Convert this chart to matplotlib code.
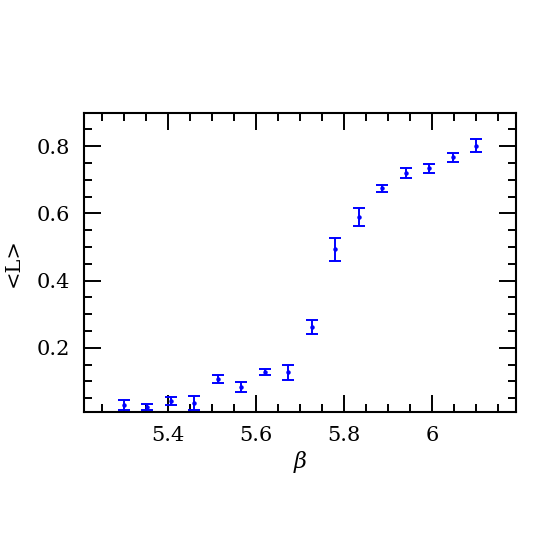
import numpy as np
import matplotlib
matplotlib.use("Agg")
import matplotlib.pyplot as plt
from matplotlib.ticker import MultipleLocator

# Polyakov loop vs beta
beta = [5.300, 5.353, 5.407, 5.460, 5.513, 5.567, 5.620, 5.673,
        5.727, 5.780, 5.833, 5.887, 5.940, 5.993, 6.047, 6.100]
L_mean = [0.030, 0.023, 0.042, 0.036, 0.107, 0.083, 0.128, 0.127,
          0.263, 0.493, 0.590, 0.675, 0.721, 0.735, 0.767, 0.802]
L_err = [0.015, 0.009, 0.013, 0.022, 0.011, 0.015, 0.0095, 0.022,
         0.021, 0.033, 0.027, 0.0105, 0.0145, 0.0134, 0.0125, 0.0184]

plt.rcParams['font.family'] = ['DejaVu Serif']
plt.rcParams['mathtext.fontset'] = 'dejavuserif'

fig = plt.figure(figsize=(5.45, 5.45), dpi=100)
ax = fig.add_axes([84/545, 1-411.7/545, 432/545, 299/545])

ax.errorbar(beta, L_mean, yerr=L_err, fmt='o', color='blue', ms=2.2,
            capsize=4.6, capthick=1.4, elinewidth=1.4)

ax.set_xlim(5.21, 6.19)
ax.set_ylim(0.01, 0.90)
ax.xaxis.set_minor_locator(MultipleLocator(0.05))
ax.yaxis.set_minor_locator(MultipleLocator(0.05))
ax.set_xticks([5.4, 5.6, 5.8, 6.0])
ax.set_xticklabels(['5.4', '5.6', '5.8', '6'])
ax.set_yticks([0.2, 0.4, 0.6, 0.8])
ax.set_yticklabels(['0.2', '0.4', '0.6', '0.8'])

ax.tick_params(which='both', direction='in', top=True, right=True,
               width=1.4, labelsize=15, pad=10)
ax.tick_params(which='major', length=12)
ax.tick_params(which='minor', length=6)
for s in ax.spines.values():
    s.set_linewidth(1.5)

ax.set_xlabel(r'$\beta$', fontsize=16, labelpad=3)
ax.set_ylabel('<L>', fontsize=15, labelpad=10)

fig.savefig('out.png', dpi=100)
